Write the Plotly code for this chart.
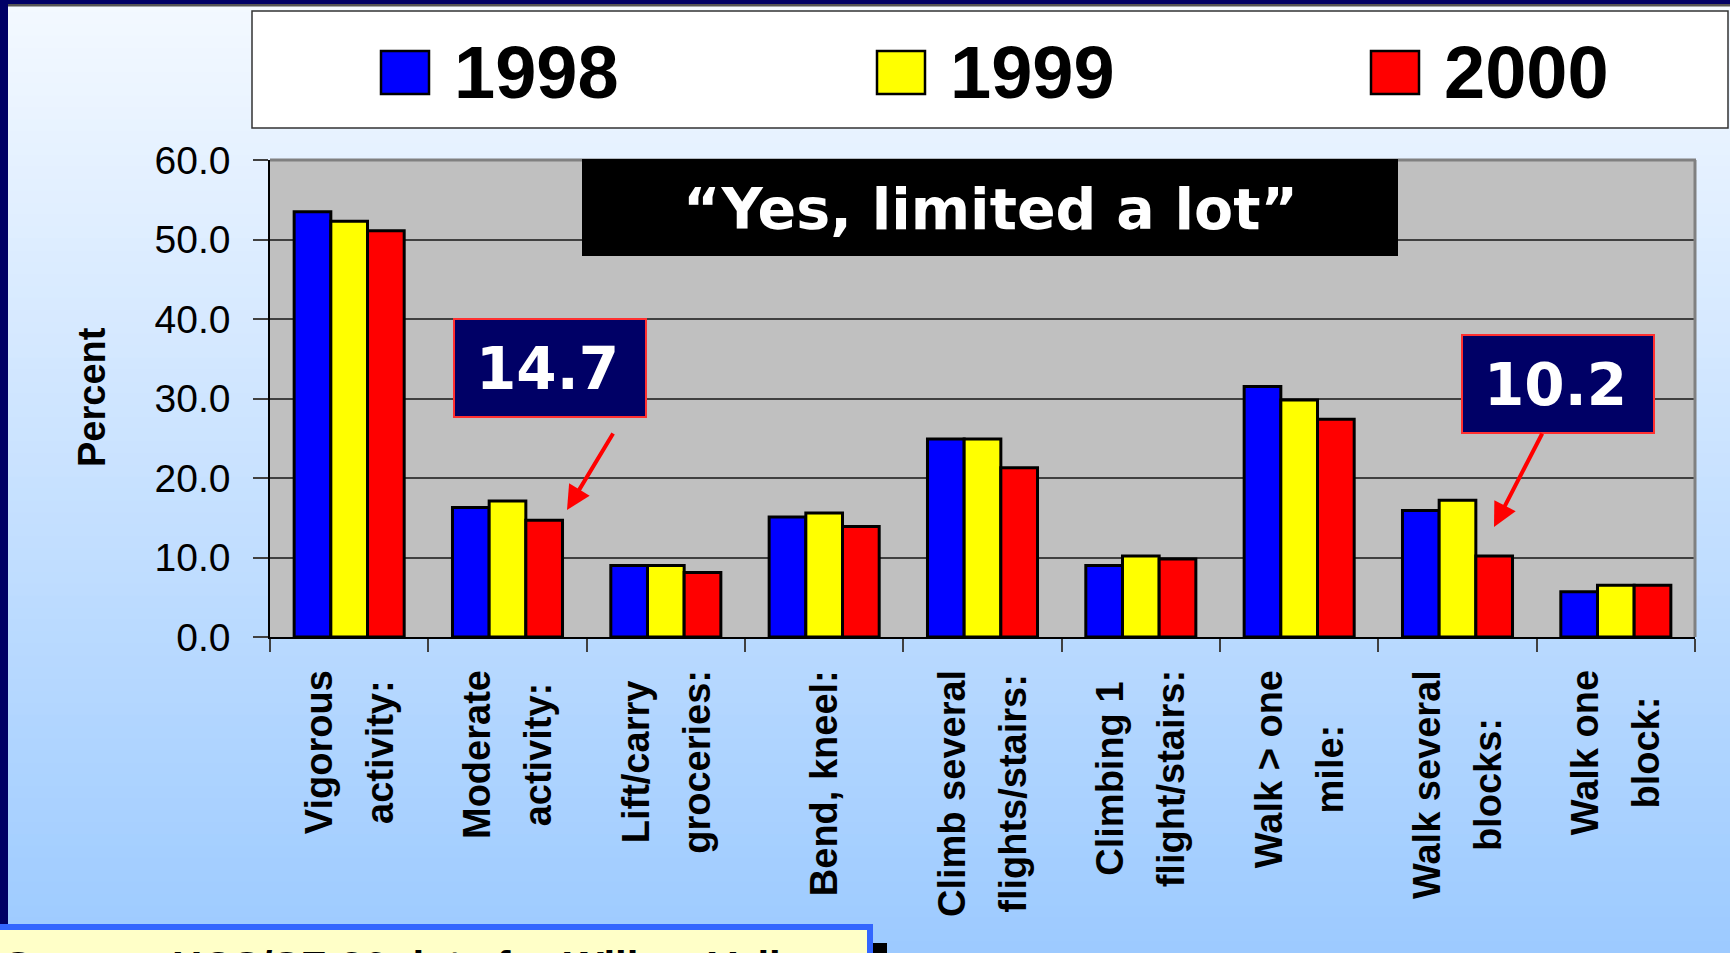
import plotly.graph_objects as go

W, H = 1730, 953

# ---------------- data ----------------
categories = ["Vigorous activity:", "Moderate activity:", "Lift/carry groceries:", "Bend, kneel:",
              "Climb several flights/stairs:", "Climbing 1 flight/stairs:", "Walk > one mile:",
              "Walk several blocks:", "Walk one block:"]
label_line1 = ["Vigorous", "Moderate", "Lift/carry", "Bend, kneel:", "Climb several",
               "Climbing 1", "Walk > one", "Walk several", "Walk one"]
label_line2 = ["activity:", "activity:", "groceries:", "", "flights/stairs:",
               "flight/stairs:", "mile:", "blocks:", "block:"]
years = ["1998", "1999", "2000"]
v1998 = [53.5, 16.3, 9.0, 15.1, 24.9, 9.0, 31.5, 15.9, 5.7]
v1999 = [52.3, 17.1, 9.0, 15.6, 24.9, 10.2, 29.8, 17.2, 6.5]
v2000 = [51.1, 14.7, 8.1, 13.9, 21.3, 9.8, 27.4, 10.2, 6.5]
series = [v1998, v1999, v2000]
bar_colors = ["#0000FF", "#FFFF00", "#FF0000"]
y_ticks = [0, 10, 20, 30, 40, 50, 60]
y_tick_labels = ["0.0", "10.0", "20.0", "30.0", "40.0", "50.0", "60.0"]
title_text = "\u201cYes, limited a lot\u201d"
y_title = "Percent"
source_text = "Source: HCS/SF-36 data for Willow Valley"
callout_idx = [1, 7]  # categories whose 2000 value is called out

# ---------------- helpers ----------------
def px(x):
    return x / W

def py(y):
    return 1 - y / H

PL, PR, PT, PB = 270, 1695, 160, 637

shapes = []
annotations = []

# background gradient (top near-white to light blue)
top_c = (244, 249, 255)
bot_c = (156, 202, 255)
nb = 80
for i in range(nb):
    t = (i + 0.5) / nb
    c = tuple(round(top_c[k] + (bot_c[k] - top_c[k]) * t) for k in range(3))
    shapes.append(dict(type="rect", xref="paper", yref="paper", layer="below",
                       x0=0, x1=1, y0=py(H * (i + 1) / nb) - 0.001, y1=py(H * i / nb),
                       fillcolor="rgb(%d,%d,%d)" % c, line=dict(width=0)))

# plot area background
shapes.append(dict(type="rect", xref="paper", yref="paper", layer="below",
                   x0=px(PL), x1=px(PR), y0=py(PB), y1=py(PT),
                   fillcolor="#C0C0C0", line=dict(width=0)))

# slide frame
shapes.append(dict(type="rect", xref="paper", yref="paper", layer="below",
                   x0=0, x1=1, y0=py(4), y1=1, fillcolor="#000066", line=dict(width=0)))
shapes.append(dict(type="rect", xref="paper", yref="paper", layer="below",
                   x0=0, x1=1, y0=py(6.5), y1=py(4), fillcolor="#555555", line=dict(width=0)))
shapes.append(dict(type="rect", xref="paper", yref="paper", layer="below",
                   x0=0, x1=px(8), y0=0, y1=1, fillcolor="#000066", line=dict(width=0)))

# legend box
shapes.append(dict(type="rect", xref="paper", yref="paper", layer="above",
                   x0=px(252), x1=px(1728), y0=py(128), y1=py(11),
                   fillcolor="white", line=dict(color="#333333", width=1.5)))
leg_sq_x = [381, 877, 1371]
for i, yr in enumerate(years):
    x0 = leg_sq_x[i]
    shapes.append(dict(type="rect", xref="paper", yref="paper", layer="above",
                       x0=px(x0), x1=px(x0 + 48), y0=py(94), y1=py(51),
                       fillcolor=bar_colors[i], line=dict(color="black", width=2.5)))
    annotations.append(dict(xref="paper", yref="paper", x=px(x0 + 71), y=py(72),
                            xanchor="left", yanchor="middle", showarrow=False,
                            text="<b>%s</b>" % yr,
                            font=dict(family="Liberation Sans, Arial", size=74, color="black")))

# plot frame (top and right, gray)
shapes.append(dict(type="line", xref="paper", yref="paper", layer="above",
                   x0=px(PL), x1=px(PR + 1), y0=py(PT), y1=py(PT),
                   line=dict(color="#808080", width=3)))
shapes.append(dict(type="line", xref="paper", yref="paper", layer="above",
                   x0=px(PR), x1=px(PR), y0=py(PB), y1=py(PT),
                   line=dict(color="#808080", width=3)))

# title box
shapes.append(dict(type="rect", xref="paper", yref="paper", layer="above",
                   x0=px(582), x1=px(1398), y0=py(256), y1=py(159),
                   fillcolor="black", line=dict(width=0)))
annotations.append(dict(xref="paper", yref="paper", x=px(990), y=py(209),
                        xanchor="center", yanchor="middle", showarrow=False,
                        text="<b>%s</b>" % title_text,
                        font=dict(family="DejaVu Sans", size=57, color="white")))

# callout boxes with arrows
callout_boxes = [(454, 646, 319, 417), (1462, 1654, 335, 433)]
arrow_tail = [(614, 432), (1543, 432)]
arrow_head = [(567, 510), (1494, 527)]
for k, ci in enumerate(callout_idx):
    x0, x1, y0, y1 = callout_boxes[k]
    shapes.append(dict(type="rect", xref="paper", yref="paper", layer="above",
                       x0=px(x0), x1=px(x1), y0=py(y1), y1=py(y0),
                       fillcolor="#000066", line=dict(color="#FF3030", width=2)))
    annotations.append(dict(xref="paper", yref="paper", x=px((x0 + x1) / 2 - 3), y=py((y0 + y1) / 2 + 1),
                            xanchor="center", yanchor="middle", showarrow=False,
                            text="<b>%.1f</b>" % v2000[ci],
                            font=dict(family="DejaVu Sans", size=58, color="white")))
    hx, hy = arrow_head[k]
    tx, ty = arrow_tail[k]
    annotations.append(dict(xref="paper", yref="paper", x=px(hx), y=py(hy),
                            ax=tx - hx, ay=ty - hy, text="", showarrow=True,
                            arrowhead=2, arrowsize=1.2, arrowwidth=4, arrowcolor="#FF0000",
                            standoff=0, startstandoff=0))

# y-axis title
annotations.append(dict(xref="paper", yref="paper", x=px(92), y=py(397),
                        xanchor="center", yanchor="middle", showarrow=False, textangle=-90,
                        text="<b>%s</b>" % y_title,
                        font=dict(family="Liberation Sans, Arial", size=38, color="black")))

# category labels (two lines, rotated)
for i, cat in enumerate(categories):
    lines = ["<span style='font-size:38px'><b>%s</b></span>" % label_line1[i]]
    if label_line2[i]:
        lines.append("<span style='font-size:38px'><b>%s</b></span>" % label_line2[i])
    annotations.append(dict(xref="x", yref="paper", x=cat, y=py(668),
                            xanchor="center", yanchor="top", showarrow=False, textangle=-90,
                            align="center", text="<br>".join(lines),
                            font=dict(family="Liberation Sans, Arial", size=47, color="black")))

# source box at bottom
shapes.append(dict(type="rect", xref="paper", yref="paper", layer="above",
                   x0=px(873), x1=px(887), y0=py(H + 10), y1=py(943),
                   fillcolor="black", line=dict(width=0)))
shapes.append(dict(type="rect", xref="paper", yref="paper", layer="above",
                   x0=px(-10), x1=px(873), y0=py(H + 10), y1=py(924),
                   fillcolor="#3366FF", line=dict(width=0)))
shapes.append(dict(type="rect", xref="paper", yref="paper", layer="above",
                   x0=px(-10), x1=px(867), y0=py(H + 10), y1=py(930),
                   fillcolor="#FFFFC8", line=dict(width=0)))
annotations.append(dict(xref="paper", yref="paper", x=px(2), y=py(941),
                        xanchor="left", yanchor="top", showarrow=False,
                        text="<b>%s</b>" % source_text,
                        font=dict(family="Liberation Sans, Arial", size=42, color="black")))

# ---------------- figure ----------------
fig = go.Figure()
for i, yr in enumerate(years):
    fig.add_trace(go.Bar(x=categories, y=series[i], name=yr,
                         marker=dict(color=bar_colors[i], line=dict(color="black", width=3))))

fig.update_layout(
    template="none",
    width=W, height=H, margin=dict(l=0, r=0, t=0, b=0, pad=0, autoexpand=False),
    paper_bgcolor="white", plot_bgcolor="rgba(0,0,0,0)",
    barmode="group", bargap=0.305, bargroupgap=0,
    showlegend=False,
    shapes=shapes, annotations=annotations,
    xaxis=dict(domain=[px(PL), px(PR)], type="category", showticklabels=False, automargin=False,
               ticks="outside", tickson="boundaries", ticklen=13, tickcolor="#404040", tickwidth=1.5,
               showline=True, linecolor="black", linewidth=1.5, showgrid=False, zeroline=False),
    yaxis=dict(domain=[py(PB), py(PT)], range=[0, 60], tickvals=y_ticks, ticktext=y_tick_labels,
               automargin=False,
               ticks="outside", ticklen=15, tickcolor="#404040", tickwidth=1.5,
               ticklabelstandoff=15,
               tickfont=dict(family="Liberation Sans, Arial", size=39, color="black"),
               showline=True, linecolor="black", linewidth=1.5,
               showgrid=True, gridcolor="#404040", gridwidth=1.5, zeroline=False),
)

fig.write_html("out.html", config={"displayModeBar": False},
               post_script="document.body.style.margin='0';document.body.style.overflow='hidden';")
